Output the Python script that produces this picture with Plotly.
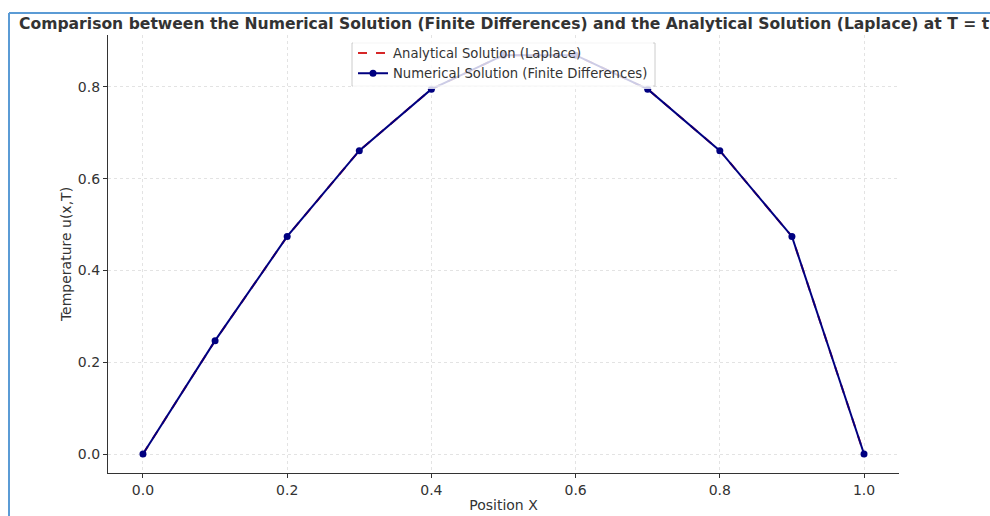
import plotly.graph_objects as go

x_pos = [0.0, 0.1, 0.2, 0.3, 0.4, 0.5, 0.6, 0.7, 0.8, 0.9, 1.0]
u_analytical = [0.0, 0.247, 0.474, 0.661, 0.795, 0.869, 0.869, 0.795, 0.661, 0.474, 0.0]
u_numerical = [0.0, 0.247, 0.474, 0.661, 0.795, 0.869, 0.869, 0.795, 0.661, 0.474, 0.0]
x_ticks = [0.0, 0.2, 0.4, 0.6, 0.8, 1.0]
y_ticks = [0.0, 0.2, 0.4, 0.6, 0.8]

title_text = ("Comparison between the Numerical Solution (Finite Differences) "
              "and the Analytical Solution (Laplace) at T = t")

L, R, T, B = 108, 899, 35, 473
W, H = 990, 516
PW, PH = R - L, B - T


def px(xs):
    return (xs - L) / PW


def py(ys):
    return 1 - (ys - T) / PH


fig = go.Figure()
fig.add_trace(go.Scatter(
    x=x_pos, y=u_analytical, mode="lines",
    name="Analytical Solution (Laplace)",
    line=dict(color="#d62728", width=2, dash="dash"),
))
fig.add_trace(go.Scatter(
    x=x_pos, y=u_numerical, mode="lines+markers",
    name="Numerical Solution (Finite Differences)",
    line=dict(color="#000080", width=2),
    marker=dict(color="#000080", size=7),
))

axis_common = dict(
    showline=True, linecolor="#333333", linewidth=1.2,
    ticks="outside", ticklen=4, tickcolor="#333333",
    tickfont=dict(family="DejaVu Sans", size=14, color="#333333"),
    showgrid=True, gridcolor="#e3e3e3", griddash="dot", gridwidth=0.8,
    zeroline=False, mirror=False, automargin=False,
)

fig.update_layout(
    width=W, height=H,
    margin=dict(l=L, r=W - R, t=T, b=H - B, autoexpand=False),
    paper_bgcolor="white", plot_bgcolor="white",
    font=dict(family="DejaVu Sans", color="#333333"),
    showlegend=True,
    legend=dict(
        x=px(353), y=py(38), xanchor="left", yanchor="top",
        bgcolor="rgba(255,255,255,0.8)", borderwidth=0,
        font=dict(family="DejaVu Sans", size=13.2, color="#333333"),
        tracegroupgap=0, itemwidth=30,
    ),
    xaxis=dict(
        range=[-0.0485, 1.0485], tickvals=x_ticks,
        ticktext=[f"{v:.1f}" for v in x_ticks],
        title=dict(text="Position X", font=dict(family="DejaVu Sans", size=14, color="#333333"), standoff=3),
        **axis_common,
    ),
    yaxis=dict(
        range=[-0.0414, 0.913], tickvals=y_ticks,
        ticktext=[f"{v:.1f}" for v in y_ticks],
        title=dict(text="Temperature u(x,T)", font=dict(family="DejaVu Sans", size=14, color="#333333"), standoff=2),
        **axis_common,
    ),
    annotations=[dict(
        text="<b>" + title_text + "</b>", xref="paper", yref="paper",
        x=px(17), y=py(24), xanchor="left", yanchor="middle",
        showarrow=False, font=dict(family="DejaVu Sans", size=15.6, color="#333333"),
    )],
    shapes=[
        # legend frame
        dict(type="rect", xref="paper", yref="paper", layer="above",
             x0=px(352), x1=px(655), y0=py(86), y1=py(43),
             fillcolor="rgba(0,0,0,0)",
             line=dict(color="#cccccc", width=1)),
        # blue frame of the screenshot
        dict(type="line", xref="paper", yref="paper", layer="above",
             x0=px(9), x1=px(1000), y0=py(13), y1=py(13),
             line=dict(color="#5b9bd5", width=2)),
        dict(type="line", xref="paper", yref="paper", layer="above",
             x0=px(9), x1=px(9), y0=py(13), y1=py(530),
             line=dict(color="#5b9bd5", width=2)),
    ],
)

fig.write_html(
    "out.html",
    config={"displayModeBar": False},
    post_script="document.body.style.margin='0';document.body.style.overflow='hidden';",
)
